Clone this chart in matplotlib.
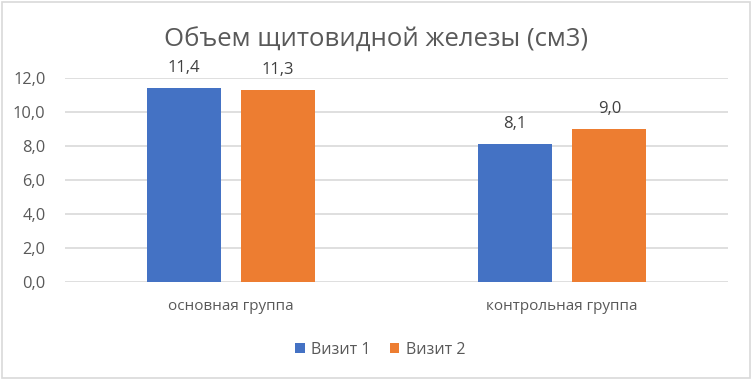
import matplotlib
matplotlib.use('Agg')
import matplotlib.pyplot as plt
import numpy as np
from matplotlib.patches import Rectangle

# data
categories = ['основная группа', 'контрольная группа']
visit1 = [11.4, 8.1]
visit2 = [11.3, 9.0]
series_names = ['Визит 1', 'Визит 2']
yticks = [0, 2, 4, 6, 8, 10, 12]

plt.rcParams['font.family'] = ['Open Sans', 'DejaVu Sans']
txt = '#595959'

W, H = 752, 380
fig = plt.figure(figsize=(W / 100, H / 100), dpi=100)
ax = fig.add_axes([65 / W, (H - 282) / H, (728 - 65) / W, (282 - 78) / H])

x = np.arange(len(categories))
bw = 0.223
off = 0.142
b1 = ax.bar(x - off, visit1, bw, color='#4472C4', label=series_names[0], zorder=3)
b2 = ax.bar(x + off, visit2, bw, color='#ED7D31', label=series_names[1], zorder=3)

for bars, vals in [(b1, visit1), (b2, visit2)]:
    for r, v in zip(bars, vals):
        ax.text(r.get_x() + r.get_width() / 2, v + 0.7, f'{v:.1f}'.replace('.', ','),
                ha='center', va='bottom', fontsize=12, color='#404040')

ax.set_xlim(-0.5, 1.5)
ax.set_ylim(0, 12)
ax.set_yticks(yticks)
ax.set_yticklabels([f'{t:.1f}'.replace('.', ',') for t in yticks], fontsize=11.8, color=txt)
ax.set_xticks(x)
ax.set_xticklabels(categories, fontsize=11, color=txt)
ax.tick_params(axis='both', length=0)
ax.tick_params(axis='y', pad=14)
ax.tick_params(axis='x', pad=12)
ax.grid(axis='y', color='#D9D9D9', linewidth=1.2, zorder=0)
for s in ax.spines.values():
    s.set_visible(False)

fig.text(0.5, (H - 40) / H, 'Объем щитовидной железы (см3)', ha='center', va='center',
         fontsize=18.5, color=txt)

leg = fig.legend(handles=[b1, b2], labels=series_names, loc='center',
                 bbox_to_anchor=(380 / W, (H - 350) / H), ncol=2, frameon=False,
                 fontsize=11.5, handlelength=0.6, handleheight=0.6, handletextpad=0.4,
                 columnspacing=1.2)
for t in leg.get_texts():
    t.set_color(txt)

fig.patches.append(Rectangle((2 / W, 2 / H), (W - 4) / W, (H - 4) / H, transform=fig.transFigure,
                             fill=False, edgecolor='#D9D9D9', linewidth=1.2))

fig.savefig('out.png', dpi=100)
